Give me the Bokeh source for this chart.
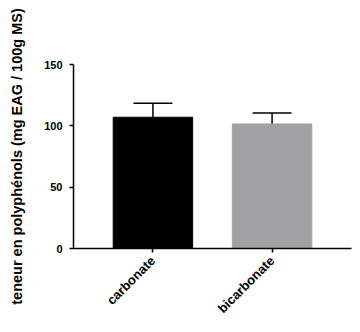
from bokeh.plotting import figure
from bokeh.models import Range1d, FixedTicker, Whisker, ColumnDataSource, TeeHead
from bokeh.embed import file_html
from bokeh.resources import INLINE
import math

categories = ["carbonate", "bicarbonate"]
values = [107.0, 101.5]
errors = [11.5, 9.0]
colors = ["#000000", "#a2a2a4"]
y_ticks = [0, 50, 100, 150]

xs = [i + 1 for i in range(len(categories))]
src = ColumnDataSource(dict(
    x=xs, top=values, color=colors,
    lower=values, upper=[v + e for v, e in zip(values, errors)],
))

p = figure(width=360, height=332, output_backend="svg", toolbar_location=None,
           x_range=Range1d(1 - 2 / 3, 2 + 2 / 3), y_range=Range1d(0, 150),
           min_border_left=73, min_border_right=9, min_border_top=64, min_border_bottom=84)
p.frame_width = 278
p.frame_height = 184

p.vbar(x="x", top="top", bottom=0, width=2 / 3, source=src, fill_color="color",
       line_color="color", line_width=1)

w = Whisker(base="x", lower="lower", upper="upper", source=src, dimension="height",
            line_color="black", line_width=1.5, lower_head=None,
            upper_head=TeeHead(size=39, line_color="black", line_width=1.5))
p.add_layout(w)

p.xgrid.visible = False
p.ygrid.visible = False
p.outline_line_color = None
p.background_fill_color = "white"
p.border_fill_color = "white"

font = "Liberation Sans"
p.yaxis.ticker = FixedTicker(ticks=y_ticks)
p.xaxis.ticker = FixedTicker(ticks=xs)
p.xaxis.major_label_overrides = {x: c for x, c in zip(xs, categories)}
p.xaxis.major_label_orientation = math.pi / 4

for ax in (p.xaxis, p.yaxis):
    ax.axis_line_width = 1.5
    ax.axis_line_color = "black"
    ax.major_tick_line_color = "black"
    ax.major_tick_line_width = 1.5
    ax.major_tick_in = 0
    ax.major_tick_out = 4
    ax.minor_tick_line_color = None
    ax.major_label_text_font = font
    ax.major_label_text_font_style = "bold"
    ax.major_label_text_color = "black"

p.yaxis.major_label_text_font_size = "11px"
p.yaxis.major_label_standoff = 7
p.xaxis.major_label_text_font_size = "13px"
p.xaxis.major_label_standoff = 6

p.yaxis.axis_label = "teneur en polyphénols (mg EAG / 100g MS)"
p.yaxis.axis_label_text_font = font
p.yaxis.axis_label_text_font_style = "bold"
p.yaxis.axis_label_text_font_size = "14.5px"
p.yaxis.axis_label_text_color = "black"
p.yaxis.axis_label_standoff = 16

open("out.html", "w").write(file_html(p, INLINE))
